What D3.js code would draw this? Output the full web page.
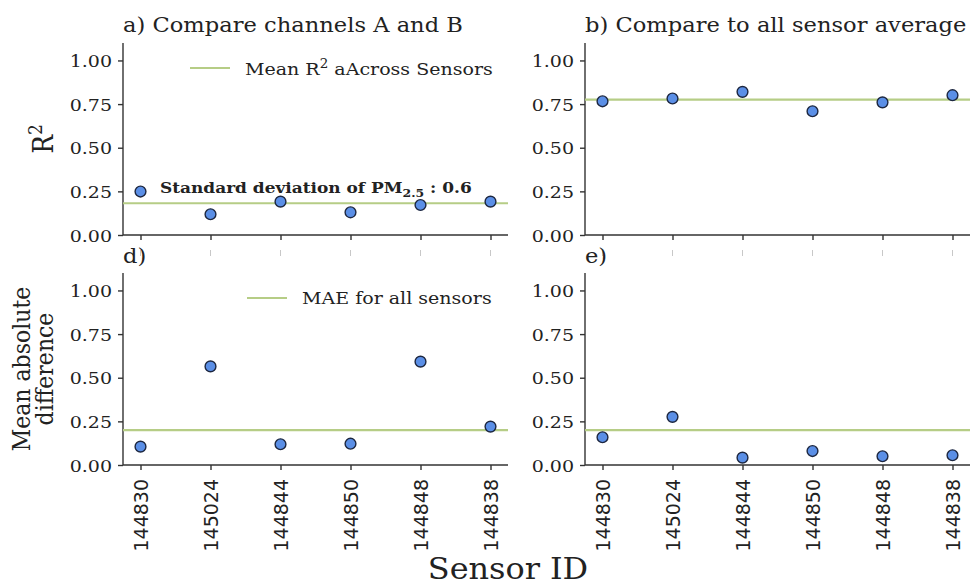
<!DOCTYPE html>
<html>
<head>
<meta charset="utf-8">
<script src="https://cdn.jsdelivr.net/npm/d3@7"></script>
<style>
  body { margin: 0; background: #fff; }
  svg { display: block; }
</style>
</head>
<body>
<div class="render"></div>
<script>
'use strict';

// sensor ids on the x axis
var sensors = ['144830', '145024', '144844', '144850', '144848', '144838'];
// a) R2 between channels A and B
var r2AB = [0.249, 0.119, 0.191, 0.130, 0.172, 0.191];
// b) R2 against all sensor average
var r2Avg = [0.766, 0.782, 0.820, 0.709, 0.760, 0.801];
// d) mean absolute difference channels A / B
var maeAB = [0.105, 0.565, 0.119, 0.122, 0.592, 0.220];
// e) mean absolute difference to average
var maeAvg = [0.159, 0.276, 0.042, 0.080, 0.050, 0.056];
// horizontal reference lines (a, b, d, e)
var meanLines = [0.182, 0.776, 0.200, 0.200];
var yTicks = [0, 0.25, 0.5, 0.75, 1.0];

var w = 972, h = 586;
var pw = 385, ph = 192;
var SX = 1.12;          // the original's serif text runs a bit wide
var serif = 'DejaVu Serif, serif';
var sans = 'DejaVu Sans, sans-serif';
var lineCol = '#b6cd86';
var dotFill = '#5b8fe6';
var dotEdge = '#1d2740';
var axisCol = '#333';

var svg = d3.select('.render').append('svg').attr('width', w).attr('height', h);

var x = d3.scalePoint().domain(sensors).range([0, pw]).padding(0.25);
var y = d3.scaleLinear().domain([0, 1.1]).range([ph, 0]);

function txt(g, str, px, py, size, opts) {
   opts = opts || {};
   var t = g.append('text')
      .attr('transform', 'translate(' + px + ',' + py + ') scale(' + (opts.sx || SX) + ',1)' + (opts.rot ? ' rotate(' + opts.rot + ')' : ''))
      .style('font-family', opts.font || serif)
      .style('font-size', size + 'px')
      .style('fill', '#222')
      .attr('text-anchor', opts.anchor || 'start');
   if (opts.bold) t.style('font-weight', 'bold');
   if (str !== null) t.text(str);
   return t;
}

var panels = [
   {left: 123, top: 43, vals: r2AB, mean: meanLines[0], title: 'a) Compare channels A and B', labels: false},
   {left: 585, top: 43, vals: r2Avg, mean: meanLines[1], title: 'b) Compare to all sensor average', labels: false},
   {left: 123, top: 273, vals: maeAB, mean: meanLines[2], title: 'd)', labels: true},
   {left: 585, top: 273, vals: maeAvg, mean: meanLines[3], title: 'e)', labels: true}
];

panels.forEach(function (p) {
   var g = svg.append('g').attr('transform', 'translate(' + p.left + ',' + p.top + ')');

   // faint marks under the top panels (hidden tick labels)
   if (!p.labels) {
      g.selectAll('.faint').data(sensors).enter().append('line')
         .attr('x1', function (d) { return x(d); }).attr('x2', function (d) { return x(d); })
         .attr('y1', ph + 15).attr('y2', ph + 21)
         .style('stroke', '#c8c8c8').style('stroke-width', 1);
   }

   var yAxis = d3.axisLeft(y).tickValues(yTicks).tickSize(5).tickPadding(3).tickFormat(d3.format('.2f'));
   var ya = g.append('g').call(yAxis);
   ya.select('.domain').attr('d', 'M0,0V' + ph);
   ya.selectAll('text').attr('x', null).attr('dy', null)
      .attr('transform', 'translate(-11,6) scale(' + SX + ',1)')
      .style('font-family', serif).style('font-size', '17px').style('fill', '#222');

   var xAxis = d3.axisBottom(x).tickSize(5);
   var xa = g.append('g').attr('transform', 'translate(0,' + ph + ')').call(xAxis);
   xa.select('.domain').attr('d', 'M0,0H' + pw);
   if (p.labels) {
      xa.selectAll('text').attr('y', 0).attr('x', -14).attr('dy', '0.35em')
         .attr('transform', 'rotate(-90)').attr('text-anchor', 'end')
         .style('font-family', sans).style('font-size', '19px').style('fill', '#222');
   } else {
      xa.selectAll('text').remove();
   }
   [ya, xa].forEach(function (a) {
      a.selectAll('.domain, line').style('stroke', axisCol).style('stroke-width', 1.4);
   });

   g.append('line').attr('x1', 0).attr('x2', pw)
      .attr('y1', y(p.mean)).attr('y2', y(p.mean))
      .style('stroke', lineCol).style('stroke-width', 2.2);

   g.selectAll('circle').data(p.vals).enter().append('circle')
      .attr('cx', function (d, i) { return x(sensors[i]); })
      .attr('cy', function (d) { return y(d); })
      .attr('r', 5.4)
      .style('fill', dotFill).style('stroke', dotEdge).style('stroke-width', 1.4);

   txt(svg, p.title, p.left, p.labels ? 263 : 32, 20, {sx: 1.13});
});

// legend a)
svg.append('line').attr('x1', 190).attr('x2', 230).attr('y1', 68).attr('y2', 68)
   .style('stroke', lineCol).style('stroke-width', 2.2);
var lg = txt(svg, null, 245, 75, 17);
lg.append('tspan').text('Mean R');
lg.append('tspan').text('2').attr('dy', -7).style('font-size', '12px');
lg.append('tspan').text(' aAcross Sensors').attr('dy', 7);

// legend d)
svg.append('line').attr('x1', 247).attr('x2', 287).attr('y1', 298).attr('y2', 298)
   .style('stroke', lineCol).style('stroke-width', 2.2);
txt(svg, 'MAE for all sensors', 302, 304, 17);

// annotation in a)
var an = txt(svg, null, 160, 193, 15, {bold: true, sx: 1.13});
an.append('tspan').text('Standard deviation of PM');
an.append('tspan').text('2.5').attr('dy', 4).style('font-size', '11px');
an.append('tspan').text(' : 0.6').attr('dy', -4);

// y labels
var r2 = txt(svg, null, 53, 139, 25, {anchor: 'middle', rot: -90});
r2.append('tspan').text('R');
r2.append('tspan').text('2').attr('dy', -10).style('font-size', '17px');

txt(svg, 'Mean absolute', 30, 369, 22, {anchor: 'middle', rot: -90});
txt(svg, 'difference', 53, 369, 22, {anchor: 'middle', rot: -90});

// x label
txt(svg, 'Sensor ID', 508, 579, 29, {anchor: 'middle', sx: 1.1});
</script>
</body>
</html>
